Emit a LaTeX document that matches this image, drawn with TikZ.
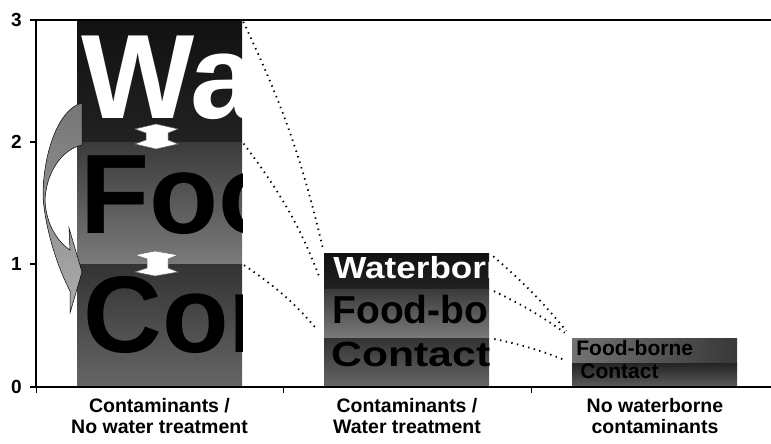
\documentclass[tikz,border=0pt]{standalone}
\usepackage{fontspec}
\setmainfont{Liberation Sans}
\usepackage{graphicx}
\usetikzlibrary{positioning}
\newcommand{\fsz}[1]{\fontsize{#1}{#1}\selectfont}

\begin{document}
\begin{tikzpicture}[
  x=1pt, y=1pt,
  seg/.style={rectangle, inner sep=0pt, minimum width=165pt, anchor=north west},
  wseg/.style={seg, top color=black!93, bottom color=black!87},
  fseg/.style={seg, top color=black!77, bottom color=black!52},
  cseg/.style={seg, top color=black!80, bottom color=black!60},
  fsegs/.style={seg, left color=black!55, right color=black!78},
  csegs/.style={seg, top color=black!86, bottom color=black!64},
  inlabel/.style n args={5}{path picture={
      \node[anchor=base west, inner sep=0pt, minimum width=0pt, minimum height=0pt,
            text=#1, font=\bfseries#2] (#5)
        at ([shift={(#3)}]path picture bounding box.south west) {#4};}},
  link/.style={line width=1.8pt, dash pattern=on 1.4pt off 4.4pt},
  axis/.style={line width=1.6pt},
  twoway/.style={fill=white, draw=black!60, line width=0.5pt},
  curvedarr/.style={draw=black, line width=0.5pt, top color=black!54, bottom color=black!32},
  ylab/.style={anchor=east, inner sep=0pt, font=\bfseries\fsz{19}},
  xlab/.style={anchor=north, align=center, inner sep=0pt,
               font=\bfseries\fontsize{19.5}{21.5}\selectfont}
]
\useasboundingbox (0,0) rectangle (771,444);

% bar 1: contaminants, no treatment
\node[wseg, minimum height=122pt, inlabel={white}{\fsz{120}}{4pt,24pt}{Waterborne}{w1t}] (w1) at (77,424) {};
\node[fseg, minimum height=122pt, inlabel={black}{\fsz{113}}{3pt,31pt}{Food-borne}{f1t}] (f1) at (77,302) {};
\node[cseg, minimum height=123pt, inlabel={black}{\fsz{109}}{6pt,35pt}{Contact}{c1t}] (c1) at (77,180) {};

% bar 2: contaminants, water treatment
\node[wseg, minimum height=36pt, inlabel={white}{\fsz{30.5}}{9pt,11pt}{\scalebox{1.15}[1]{Waterborne}}{w2t}] (w2) at (324,191) {};
\node[fseg, minimum height=49pt, inlabel={black}{\fsz{39}}{8pt,15pt}{Food-borne}{f2t}] (f2) at (324,155) {};
\node[cseg, minimum height=49pt, inlabel={black}{\fsz{35}}{7pt,21pt}{\scalebox{1.22}[1]{Contact}}{c2t}] (c2) at (324,106) {};

% bar 3: no waterborne contaminants
\node[fsegs, minimum height=25pt, inlabel={black}{\fsz{21}}{4pt,8pt}{Food-borne}{f3t}] (f3) at (572,106) {};
\node[csegs, minimum height=24pt, inlabel={black}{\fsz{21}}{8pt,9pt}{Contact}{c3t}] (c3) at (572,81) {};

% dotted links between bars
\draw[link, shorten <=2pt, shorten >=3pt] (w1.north east) to[bend left=6] (w2.north west);
\draw[link, shorten <=2pt, shorten >=12pt] (f1.north east) to[bend left=8] (f2.north west);
\draw[link, shorten <=2pt, shorten >=11pt] (c1.north east) to[bend left=8] (c2.north west);
\draw[link, shorten <=5pt, shorten >=9pt] (w2.north east) to[bend left=5] (f3.north west);
\draw[link, shorten <=5pt, shorten >=9pt] (f2.north east) to[bend left=5] (f3.north west);
\draw[link, shorten <=5pt, shorten >=8pt] (c2.north east) to[bend left=5] (c3.north west);

% curved arrow
\path[curvedarr] (82,341) .. controls (60,336) and (43,294) .. (43,247)
  .. controls (45,219) and (55,182) .. (70,153) -- (70,131) -- (82,172) -- (69,216) -- (70,194)
  .. controls (58,202) and (46,219) .. (45,244)
  .. controls (46,269) and (60,294) .. (82,299) -- cycle;

% double arrows
\draw[twoway] (135,315) -- (156,320) -- (178,315) -- (168,311) -- (168,304) -- (178,300)
  -- (156,295) -- (135,300) -- (146,304) -- (146,311) -- cycle;
\draw[twoway] (135,189) -- (155,193) -- (178,189) -- (168,185) -- (168,176) -- (178,172)
  -- (155,168) -- (135,172) -- (147,176) -- (147,185) -- cycle;

% axes
\draw[axis] (771,424) -- (36,424) -- (36,57) -- (771,57);
\foreach \ty/\v in {57/0,180/1,302/2,424/3}{
  \draw[axis] (30,\ty) -- (36,\ty);
  \node[ylab] (y\v) at (22,\ty) {\v};
}
\foreach \tx in {36,283,531}
  \draw[line width=1pt] (\tx,57) -- (\tx,51);

\node[xlab] (cat1) at (159.5,46) {Contaminants /\\No water treatment};
\node[xlab] (cat2) at (407,46) {Contaminants /\\Water treatment};
\node[xlab] (cat3) at (655,46) {No waterborne\\contaminants};

\end{tikzpicture}
\end{document}
